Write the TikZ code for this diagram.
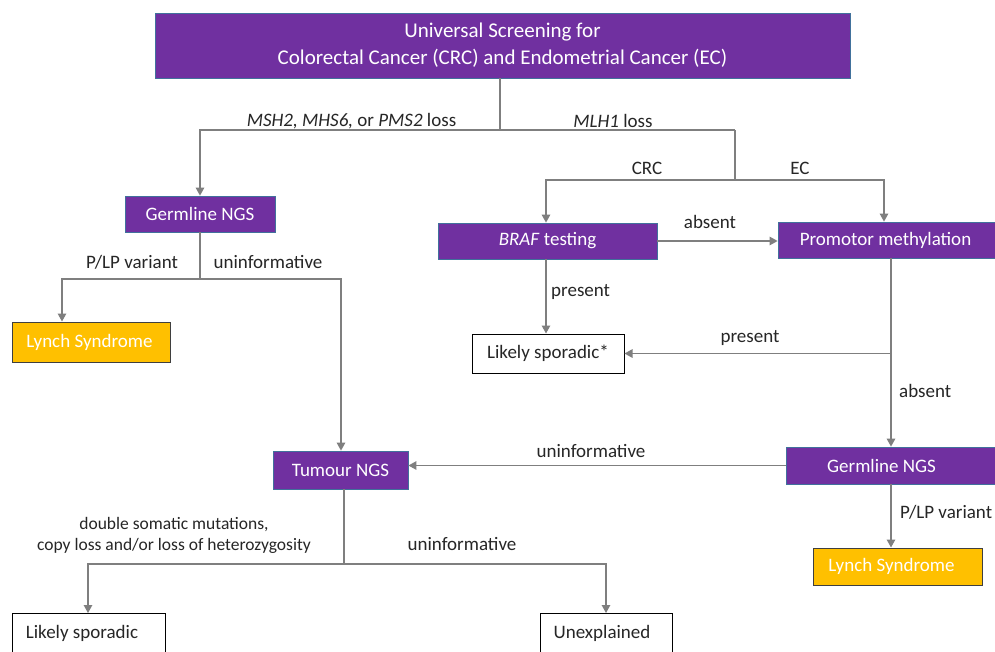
\documentclass[tikz,border=0pt]{standalone}
\usepackage{fontspec}
\setmainfont{Carlito}
\usetikzlibrary{arrows.meta}
\definecolor{purp}{HTML}{7030A0}
\definecolor{pborder}{HTML}{41719C}
\definecolor{gold}{HTML}{FFC000}
\definecolor{goldb}{HTML}{3F3F3F}
\definecolor{linec}{HTML}{7F7F7F}
\definecolor{txt}{HTML}{262626}
\begin{document}
\begin{tikzpicture}[x=1pt,y=-1pt,
  fnt/.style={font=\fontsize{19}{22}\selectfont},
  pbox/.style={fnt, draw=pborder, line width=0.8pt, fill=purp, text=white, inner sep=0pt},
  ybox/.style={fnt, draw=goldb, line width=1pt, fill=gold, text=white, inner sep=0pt},
  wbox/.style={fnt, draw=black, line width=1pt, fill=white, text=txt, inner sep=0pt},
  conn/.style={draw=linec, line width=1.3pt},
  arr/.style={conn, -{Triangle[length=8pt,width=8.5pt]}},
  lab/.style={fnt, text=txt, inner sep=0pt}]
\clip (0,0) rectangle (995,651);
\fill[white] (0,0) rectangle (995,651);
% boxes
\node[pbox, minimum width=695pt, minimum height=65pt, align=center,
      font=\fontsize{21}{27}\selectfont] (top) at (502.5,45.5)
  {Universal Screening for\\Colorectal Cancer (CRC) and Endometrial Cancer (EC)};
\node[pbox, minimum width=150pt, minimum height=36pt] (gL) at (200,214) {Germline NGS};
\node[ybox, minimum width=158pt, minimum height=40pt] (lynchL) at (91,342) {Lynch Syndrome\hspace*{3pt}};
\node[pbox, minimum width=135pt, minimum height=38pt] (tumour) at (340.5,470) {Tumour NGS};
\node[pbox, minimum width=219pt, minimum height=36pt] (braf) at (547.5,241) {\textit{BRAF} testing};
\node[wbox, minimum width=152pt, minimum height=39pt] (ls1) at (548,353.5) {Likely sporadic*};
\node[pbox, minimum width=219pt, minimum height=36pt] (promo) at (887.5,240) {Promotor methylation\hspace*{4pt}};
\node[pbox, minimum width=211pt, minimum height=37pt] (gR) at (891.5,465.5) {Germline NGS\hspace*{20pt}};
\node[ybox, minimum width=169pt, minimum height=37pt] (lynchR) at (897.5,566.5) {Lynch Syndrome\hspace*{12pt}};
\node[wbox, anchor=north, minimum width=153pt, text height=25pt, text depth=32pt] (lsB) at (88.5,613) {Likely sporadic\hspace*{13pt}};
\node[wbox, anchor=north, minimum width=132pt, text height=25pt, text depth=32pt] (unexp) at (606,613) {Unexplained\hspace*{8pt}};
% junctions
\coordinate (j0) at (500,130);
\coordinate (jL) at (200,130);
\coordinate (jR) at (735,130);
\coordinate (jC) at (735,180);
\coordinate (jCL) at (546,180);
\coordinate (jCR) at (884,180);
\coordinate (j3) at (891,353.5);
\coordinate (jG) at (200,279);
\coordinate (jGL) at (62,279);
\coordinate (jGR) at (341,279);
\coordinate (jT) at (344,564);
\coordinate (jTL) at (88,564);
\coordinate (jTR) at (606,564);
% connectors
\draw[conn] (top.south -| j0) -- (j0);
\draw[arr] (jR) -- (jL) -- (gL.north);
\draw[conn] (jR) -- (jC);
\draw[arr] (jC) -- (jCL) -- (jCL |- braf.north);
\draw[arr] (jC) -- (jCR) -- (jCR |- promo.north);
\draw[arr] (braf.east) -- (braf.east -| promo.west);
\draw[arr] (braf.south -| jCL) -- (jCL |- ls1.north);
\draw[conn] (promo.south -| j3) -- (j3);
\draw[arr] (j3) -- (ls1.east);
\draw[arr] (j3) -- (j3 |- gR.north);
\draw[arr] (gR.west) -- (gR.west -| tumour.east);
\draw[arr] (gR.south -| j3) -- (j3 |- lynchR.north);
\draw[conn] (gL.south) -- (jG);
\draw[arr] (jG) -- (jGL) -- (jGL |- lynchL.north);
\draw[arr] (jG) -- (jGR) -- (jGR |- tumour.north);
\draw[conn] (tumour.south -| jT) -- (jT);
\draw[arr] (jT) -- (jTL) -- (jTL |- lsB.north);
\draw[arr] (jT) -- (jTR) -- (jTR |- unexp.north);
% labels
\node[lab] (l1) at (351.5,121) {\textit{MSH2, MHS6,} or \textit{PMS2} loss};
\node[lab] (l2) at (613,121) {\textit{MLH1} loss};
\node[lab] (l3) at (647,168) {CRC};
\node[lab] (l4) at (800,168) {EC};
\node[lab] (l5) at (710,222) {absent};
\node[lab, anchor=west] (l6) at (551,292) {present};
\node[lab] (l7) at (750,338) {present};
\node[lab, anchor=west] (l8) at (899,391) {absent};
\node[lab] (l9) at (591,451) {uninformative};
\node[lab, anchor=west] (l10) at (900,512) {P/LP variant};
\node[lab] (l11) at (132,262) {P/LP variant};
\node[lab] (l12) at (268,262) {uninformative};
\node[lab, align=center, font=\fontsize{17.5}{21}\selectfont] (l13) at (174,535) {double somatic mutations,\\copy loss and/or loss of heterozygosity};
\node[lab] (l14) at (462,544) {uninformative};
\end{tikzpicture}
\end{document}
